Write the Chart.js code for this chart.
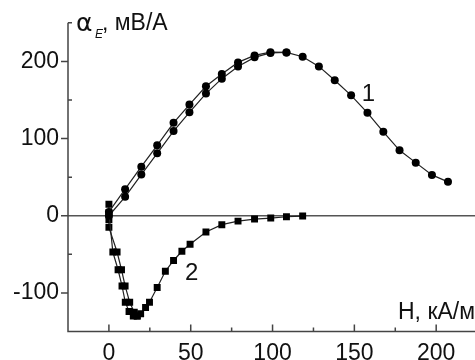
<!DOCTYPE html>
<html>
<head>
<meta charset="utf-8">
<script src="https://cdn.jsdelivr.net/npm/chart.js@4.4.1/dist/chart.umd.min.js"></script>
<style>
  html, body { margin: 0; padding: 0; background: #fff; overflow: hidden; }
  #wrap { width: 482px; height: 360px; }
</style>
</head>
<body>
<div id="wrap"><canvas id="alphaChart" width="482" height="360"></canvas></div>
<script>
// curve 1 (circles), two branches
var h1Up = [0, 9.9, 19.8, 29.5, 39.5, 49.2, 59.3, 69, 78.9, 89, 98.7, 108.5, 118.4, 128.3, 138, 148, 158, 167.7, 177.6, 187.5, 197.4, 207.2];
var a1Up = [5, 34.4, 63.6, 91.2, 120.4, 144, 167.7, 183.6, 198.7, 207.7, 212, 211.6, 206, 193.5, 175.5, 156, 133.3, 108.8, 84.8, 68.8, 52.9, 43.9];
var h1Down = [0, 9.9, 19.8, 29.5, 39.5, 49.2, 59.3, 69, 78.9, 89, 98.7, 108.5];
var a1Down = [0, 24.5, 53.3, 80.9, 109.7, 134, 158.3, 177.6, 193.5, 205.2, 211, 211.6];

// curve 2 (squares), two branches
var h2A = [0, 0, 2.4, 5.6, 8, 10, 12.3, 14.9, 17.3, 19.4, 22.4, 24.8, 29.5, 34.5, 39.5, 44.6, 49.6, 59.3, 69, 78.9, 89, 98.9, 108.5, 118.4];
var a2A = [15, 4, -47, -70, -91, -112, -124, -130, -130, -127, -119, -112, -93, -72, -58, -46, -37, -21, -11.6, -7, -4.3, -3, -1.3, -0.4];
var h2B = [0, 0, 5, 7.7, 9.9, 12.7, 15.5, 17.3];
var a2B = [-5, -15, -47, -70, -91, -112, -125, -130];

var xTicks = [0, 50, 100, 150, 200];
var xMinor = [-25, 25, 75, 125, 175];
var yTicks = [-100, 0, 100, 200];
var yMinor = [-150, -50, 50, 150, 250];

function pts(hs, as) {
  var out = [];
  for (var i in hs) {
    out.push({ x: hs[i], y: as[i] });
  }
  return out;
}

function series(hs, as, style, r) {
  return {
    data: pts(hs, as),
    borderColor: "#222",
    borderWidth: 1.2,
    backgroundColor: "#000",
    pointBackgroundColor: "#000",
    pointBorderColor: "#000",
    pointBorderWidth: 0,
    pointStyle: style,
    pointRadius: r,
    tension: 0,
  };
}

var font = "'Liberation Sans', Arial, sans-serif";

// axes, ticks, zero line and labels drawn over the chart area
var decor = {
  id: "decor",
  beforeDatasetsDraw: function (chart) {
    var c = chart.ctx, ys = chart.scales.y, ar = chart.chartArea;
    c.save();
    c.strokeStyle = "#555";
    c.lineWidth = 1.5;
    var y0 = ys.getPixelForValue(0);
    c.beginPath();
    c.moveTo(ar.left, y0);
    c.lineTo(ar.right, y0);
    c.stroke();
    c.restore();
  },
  afterDraw: function (chart) {
    var c = chart.ctx, xs = chart.scales.x, ys = chart.scales.y, ar = chart.chartArea;
    c.save();
    c.strokeStyle = "#444";
    c.lineWidth = 1.5;
    c.beginPath();
    c.moveTo(ar.left, ar.top);
    c.lineTo(ar.left, ar.bottom);
    c.lineTo(ar.right, ar.bottom);
    // y major ticks outward, minor inward
    yTicks.forEach(function (v) {
      var p = ys.getPixelForValue(v);
      c.moveTo(ar.left - 7, p);
      c.lineTo(ar.left, p);
    });
    yMinor.forEach(function (v) {
      var p = ys.getPixelForValue(v);
      c.moveTo(ar.left, p);
      c.lineTo(ar.left + 4, p);
    });
    // x ticks inward
    xTicks.forEach(function (v) {
      var p = xs.getPixelForValue(v);
      c.moveTo(p, ar.bottom);
      c.lineTo(p, ar.bottom - 7);
    });
    xMinor.forEach(function (v) {
      var p = xs.getPixelForValue(v);
      c.moveTo(p, ar.bottom);
      c.lineTo(p, ar.bottom - 4);
    });
    c.stroke();

    c.fillStyle = "#111";
    c.textBaseline = "alphabetic";
    c.textAlign = "left";
    // y title
    c.font = "25px 'DejaVu Sans', sans-serif";
    c.fillText("α", 76, 31);
    c.font = "italic 12px " + font;
    c.fillText("E", 95, 38);
    c.font = "23px " + font;
    c.fillText(", мВ/А", 102, 30);
    // x title
    c.font = "23px " + font;
    c.fillText("H, кА/м", 398, 319);
    // curve numbers
    c.font = "24px " + font;
    c.fillText("1", xs.getPixelForValue(154.5), ys.getPixelForValue(149));
    c.fillText("2", xs.getPixelForValue(46.5), ys.getPixelForValue(-83));
    c.restore();
  },
};

var ctx = document.getElementById("alphaChart");

var myChart = new Chart(ctx, {
  type: "line",
  data: {
    datasets: [
      series(h1Up, a1Up, "circle", 4),
      series(h1Down, a1Down, "circle", 4),
      series(h2A, a2A, "rect", 4.9),
      series(h2B, a2B, "rect", 4.9),
    ],
  },
  options: {
    responsive: false,
    animation: false,
    layout: { padding: { top: 21.5, right: 1, left: 0, bottom: 0 } },
    plugins: { legend: { display: false }, tooltip: { enabled: false } },
    scales: {
      x: {
        type: "linear",
        min: -25,
        max: 225,
        grid: { display: false, drawTicks: false },
        border: { display: false },
        afterBuildTicks: function (s) {
          s.ticks = xTicks.map(function (v) { return { value: v }; });
        },
        afterFit: function (s) { s.height = 28.5; },
        ticks: { color: "#111", padding: 8, maxRotation: 0, font: { family: font, size: 23 } },
      },
      y: {
        type: "linear",
        min: -150,
        max: 250,
        grid: { display: false, drawTicks: false },
        border: { display: false },
        afterBuildTicks: function (s) {
          s.ticks = yTicks.map(function (v) { return { value: v }; });
        },
        afterFit: function (s) { s.width = 68; },
        ticks: { color: "#111", padding: 9, font: { family: font, size: 23 } },
      },
    },
  },
  plugins: [decor],
});
</script>
</body>
</html>
